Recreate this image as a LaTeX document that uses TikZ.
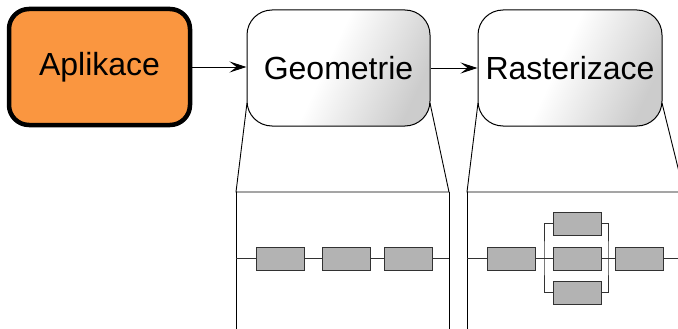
\documentclass[tikz,border=0pt]{standalone}
\usepackage{fontspec}
\setmainfont{Liberation Sans}
\usetikzlibrary{arrows.meta}
\definecolor{appor}{RGB}{250,150,64}
\definecolor{blk}{RGB}{179,179,179}
\definecolor{blkline}{RGB}{50,50,50}
\pgfdeclarehorizontalshading{stageshade}{100bp}{color(0bp)=(white); color(46bp)=(white); color(75bp)=(black!20); color(100bp)=(black!20)}
\tikzset{
  stage/.style={draw=black, line width=1pt, rounded corners=25pt, inner sep=0pt,
    minimum width=183pt, minimum height=116pt, shading=stageshade, shading angle=-25,
    font=\fontsize{32}{38}\selectfont},
  appbox/.style={draw=black, line width=4.5pt, rounded corners=20pt, fill=appor, inner sep=0pt,
    minimum width=181pt, minimum height=116pt, font=\fontsize{32}{38}\selectfont},
  unit/.style={draw=blkline, line width=1pt, fill=blk, minimum width=48pt, minimum height=23pt, inner sep=0pt},
  flow/.style={line width=0.9pt, -{Stealth[length=17pt,width=11pt,inset=7pt]}},
  thin/.style={line width=0.9pt, draw=black},
  wire/.style={line width=0.9pt, draw=blkline}
}
\begin{document}
\begin{tikzpicture}[x=1pt,y=-1pt]
\useasboundingbox (0,0) rectangle (678,329);
\begin{scope}
\clip (0,0) rectangle (678,329);
\node[appbox] (app) at (99.5,67) {Aplikace};
\node[stage] (geo) at (338.5,68) {Geometrie};
\node[stage, minimum width=184pt] (ras) at (570,68) {Rasterizace};
\draw[flow] (app.east) -- (geo.west |- app.east);
\draw[flow] (geo.east) -- (ras.west);
% expansion of Geometrie
\coordinate (g1) at (247,103);
\coordinate (g2) at (430,103);
\coordinate (gtl) at (236,192);
\coordinate (gtr) at (449,192);
\coordinate (gbl) at (236,331);
\coordinate (gbr) at (449,331);
\draw[thin] (g1) -- (gtl) -- (gtr) -- (g2);
\draw[thin] (gtl) -- (gbl);
\draw[thin] (gtr) -- (gbr);
\node[unit] (u1) at (280,258.5) {};
\node[unit] (u2) at (346,258.5) {};
\node[unit] (u3) at (408,258.5) {};
\coordinate (gl) at (236,258.5);
\coordinate (gr) at (449,258.5);
\draw[wire] (gl) -- (u1) -- (u2) -- (u3) -- (gr);
% expansion of Rasterizace
\coordinate (r1) at (478,103);
\coordinate (r2) at (662,103);
\coordinate (rtl) at (467,192);
\coordinate (rtr) at (684,192);
\coordinate (rtx) at (690,192);
\coordinate (rbl) at (467,331);
\draw[thin] (r1) -- (rtl) -- (rtx);
\draw[thin] (r2) -- (rtr);
\draw[thin] (rtl) -- (rbl);
\node[unit] (v1) at (511,258.5) {};
\node[unit] (v2) at (577,223.5) {};
\node[unit] (v3) at (577,258.5) {};
\node[unit] (v4) at (577,292.5) {};
\node[unit] (v5) at (639,258.5) {};
\coordinate (rl) at (467,258.5);
\coordinate (rr) at (690,258.5);
\coordinate (bl) at (544,258.5);
\coordinate (br) at (608,258.5);
\draw[wire] (rl) -- (v1) -- (v3) -- (v5) -- (rr);
\draw[wire] (v2.west) -| (bl) |- (v4.west);
\draw[wire] (v2.east) -| (br) |- (v4.east);
\end{scope}
\end{tikzpicture}
\end{document}
